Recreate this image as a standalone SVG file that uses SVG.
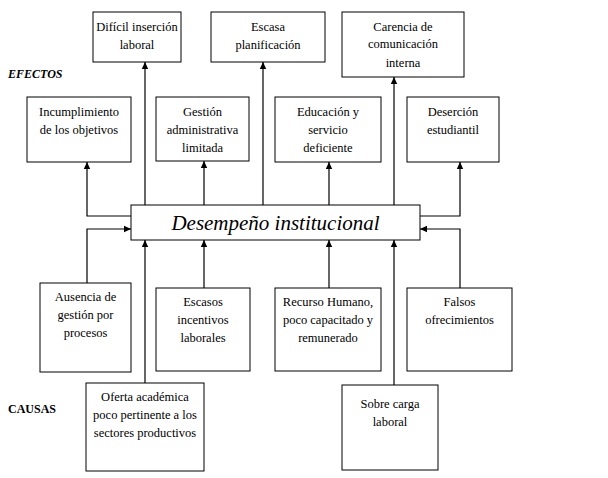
<svg xmlns="http://www.w3.org/2000/svg" width="608" height="478" viewBox="0 0 608 478">
<style>
rect{fill:#fff;stroke:#000;stroke-width:1}
text{font-family:'Liberation Serif','Times New Roman','DejaVu Serif',serif;font-size:12.5px;text-anchor:middle;fill:#000}
.c line,.c polyline{stroke:#000;stroke-width:1.2;fill:none;marker-end:url(#a)}
</style>
<defs><marker id="a" markerWidth="8" markerHeight="8" refX="7" refY="4" orient="auto" markerUnits="userSpaceOnUse"><path d="M0,0.8L7,4L0,7.2z"/></marker></defs>
<rect x="0" y="0" width="608" height="478" style="stroke:none"/>
<text x="8" y="78" style="text-anchor:start;font-weight:bold;font-style:italic;font-size:12px">EFECTOS</text>
<text x="8" y="413" style="text-anchor:start;font-weight:bold;font-size:12px">CAUSAS</text>
<g id="central"><rect x="131" y="205" width="289" height="35"/><text x="275.5" y="230" style="font-style:italic;font-size:21px">Desempeño institucional</text></g>
<g id="e1"><rect x="93" y="12" width="88" height="50"/><text x="137" y="31">Difícil inserción</text><text x="137" y="49">laboral</text></g>
<g id="e2"><rect x="211" y="12" width="114" height="50"/><text x="268" y="31">Escasa</text><text x="268" y="49">planificación</text></g>
<g id="e3"><rect x="342" y="12" width="122" height="65"/><text x="403" y="31">Carencia de</text><text x="403" y="48">comunicación</text><text x="403" y="67">interna</text></g>
<g id="e4"><rect x="27" y="97" width="104" height="65"/><text x="79" y="116">Incumplimiento</text><text x="79" y="134">de los objetivos</text></g>
<g id="e5"><rect x="156" y="97" width="93" height="64"/><text x="202.5" y="116">Gestión</text><text x="202.5" y="134">administrativa</text><text x="202.5" y="152">limitada</text></g>
<g id="e6"><rect x="275" y="97" width="106" height="65"/><text x="328" y="116">Educación y</text><text x="328" y="134">servicio</text><text x="328" y="152">deficiente</text></g>
<g id="e7"><rect x="407" y="97" width="92" height="65"/><text x="453" y="116">Deserción</text><text x="453" y="134">estudiantil</text></g>
<g id="c1"><rect x="40" y="283" width="91" height="89"/><text x="85.5" y="301">Ausencia de</text><text x="85.5" y="319">gestión por</text><text x="85.5" y="337">procesos</text></g>
<g id="c2"><rect x="86" y="383" width="118" height="88"/><text x="145" y="401">Oferta académica</text><text x="145" y="419">poco pertinente a los</text><text x="145" y="437">sectores productivos</text></g>
<g id="c3"><rect x="156" y="288" width="94" height="83"/><text x="203" y="306">Escasos</text><text x="203" y="324">incentivos</text><text x="203" y="342">laborales</text></g>
<g id="c4"><rect x="275" y="288" width="106" height="83"/><text x="328" y="306">Recurso Humano,</text><text x="328" y="324">poco capacitado y</text><text x="328" y="342">remunerado</text></g>
<g id="c5"><rect x="407" y="288" width="105" height="83"/><text x="459.5" y="306">Falsos</text><text x="459.5" y="324">ofrecimientos</text></g>
<g id="c6"><rect x="342" y="385" width="96" height="85"/><text x="390" y="408">Sobre carga</text><text x="390" y="426">laboral</text></g>
<g class="c" id="connectors">
<line x1="145" y1="205" x2="145" y2="62"/>
<line x1="204" y1="205" x2="204" y2="161"/>
<line x1="263" y1="205" x2="263" y2="62"/>
<line x1="329" y1="205" x2="329" y2="162"/>
<line x1="394" y1="205" x2="394" y2="77"/>
<polyline points="131,216 87,216 87,162"/>
<polyline points="420,216 460,216 460,162"/>
<polyline points="87,283 87,229 131,229"/>
<polyline points="460,288 460,229 420,229"/>
<line x1="145" y1="383" x2="145" y2="240"/>
<line x1="204" y1="288" x2="204" y2="240"/>
<line x1="329" y1="288" x2="329" y2="240"/>
<line x1="394" y1="385" x2="394" y2="240"/>
</g>
</svg>
